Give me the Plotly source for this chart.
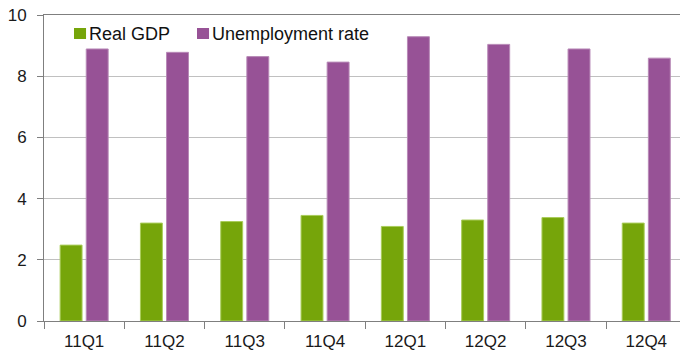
import plotly.graph_objects as go

quarters = ["11Q1", "11Q2", "11Q3", "11Q4", "12Q1", "12Q2", "12Q3", "12Q4"]
real_gdp = [2.48, 3.20, 3.25, 3.45, 3.09, 3.30, 3.38, 3.20]
unemployment = [8.89, 8.78, 8.64, 8.46, 9.29, 9.04, 8.89, 8.59]

green = "#76A50A"
purple = "#975296"
series = [
    ("Real GDP", real_gdp, green, "#A9CC5A"),
    ("Unemployment rate", unemployment, purple, "#B889B7"),
]

fig = go.Figure()
for name, vals, fill, edge in series:
    fig.add_trace(go.Bar(
        x=quarters, y=vals, name=name,
        marker=dict(color=fill, line=dict(color=edge, width=1)),
    ))

# compact legend: coloured swatch followed closely by its label
legend_x = [0.0472, 0.2406]
for (name, _, fill, _), x0 in zip(series, legend_x):
    fig.add_shape(type="rect", xref="paper", yref="paper",
                  x0=x0, x1=x0 + 0.0189, y0=0.9216, y1=0.9575,
                  fillcolor=fill, line=dict(width=0))
    fig.add_annotation(xref="paper", yref="paper", x=x0 + 0.0215, y=0.9395,
                       xanchor="left", yanchor="middle", showarrow=False,
                       text=name, font=dict(size=18, color="#111111"),
                       borderpad=0)

fig.update_layout(
    width=680, height=357,
    margin=dict(l=44, r=0, t=15, b=36),
    paper_bgcolor="white", plot_bgcolor="white",
    barmode="group", bargap=0.35, bargroupgap=0.16,
    font=dict(family="Liberation Sans, Arial, sans-serif", size=17, color="#1a1a1a"),
    showlegend=False,
)

fig.update_xaxes(
    type="category", range=[-0.5, 7.42],
    showline=True, linecolor="#7f7f7f", linewidth=1, mirror=True,
    ticks="outside", tickson="boundaries", ticklen=7, tickcolor="#7f7f7f",
    ticklabelstandoff=5,
    showgrid=False, tickfont=dict(size=17),
)
fig.update_yaxes(
    range=[0, 10], dtick=2,
    showline=True, linecolor="#7f7f7f", linewidth=1,
    ticks="outside", ticklen=6, tickcolor="#7f7f7f",
    ticklabelstandoff=7,
    showgrid=True, gridcolor="#c0c0c0", gridwidth=1,
    zeroline=False, tickfont=dict(size=17),
)

fig.write_html("out.html")
